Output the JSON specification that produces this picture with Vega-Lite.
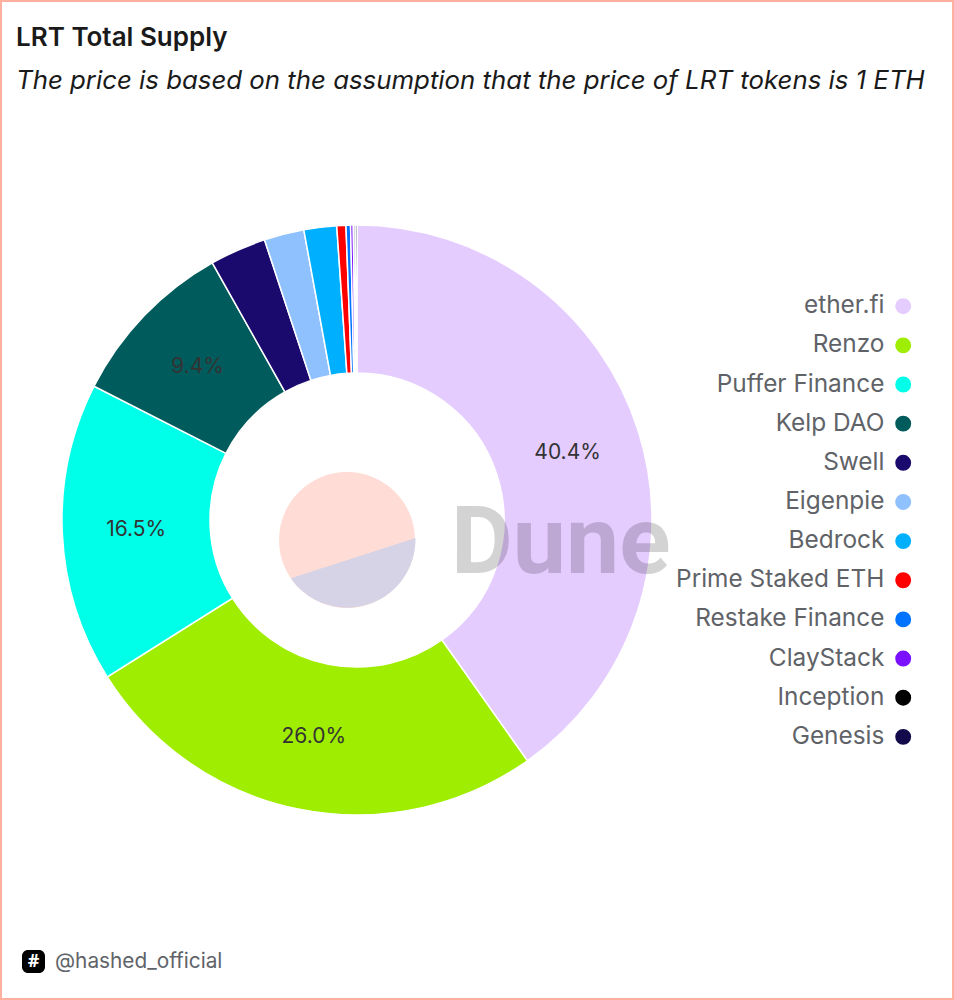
{
  "$schema": "https://vega.github.io/schema/vega-lite/v6.json",
  "width": 954, "height": 1000, "padding": 0, "autosize": {"type": "none"},
  "background": "#ffffff",
  "view": {"stroke": "#ffb0a0", "strokeWidth": 4, "fill": "#ffffff"},
  "title": {"text": "LRT Total Supply", "subtitle": "The price is based on the assumption that the price of LRT tokens is 1 ETH",
    "anchor": "start", "frame": "group", "offset": -94, "dx": 16, "font": "Inter", "fontSize": 26, "fontWeight": 600, "color": "#1a1a1a",
    "subtitleFont": "Inter", "subtitleFontSize": 25.8, "subtitleFontStyle": "italic", "subtitleColor": "#1a1a1a", "subtitlePadding": 18},
  "datasets": {
    "supply": [
      {"project": "ether.fi", "share": 40.4, "rank": 1, "label": "40.4%"},
      {"project": "Renzo", "share": 26.0, "rank": 2, "label": "26.0%"},
      {"project": "Puffer Finance", "share": 16.5, "rank": 3, "label": "16.5%"},
      {"project": "Kelp DAO", "share": 9.4, "rank": 4, "label": "9.4%"},
      {"project": "Swell", "share": 3.1, "rank": 5, "label": ""},
      {"project": "Eigenpie", "share": 2.2, "rank": 6, "label": ""},
      {"project": "Bedrock", "share": 1.8, "rank": 7, "label": ""},
      {"project": "Prime Staked ETH", "share": 0.5, "rank": 8, "label": ""},
      {"project": "Restake Finance", "share": 0.25, "rank": 9, "label": ""},
      {"project": "ClayStack", "share": 0.15, "rank": 10, "label": ""},
      {"project": "Inception", "share": 0.1, "rank": 11, "label": ""},
      {"project": "Genesis", "share": 0.1, "rank": 12, "label": ""}
    ]
  },
  "layer": [
    {
      "data": {"values": [{"part": "logo", "v": 100}]},
      "mark": {"type": "arc", "outerRadius": 68, "stroke": null, "color": "#ffddd6"},
      "encoding": {
        "x": {"value": 347}, "y": {"value": 540},
        "theta": {"field": "v", "type": "quantitative", "stack": true, "scale": {"domain": [0, 100], "range": [0, 6.2832]}}
      }
    },
    {
      "data": {"values": [{"part": "logo lower"}]},
      "mark": {"type": "point", "filled": true, "opacity": 1, "color": "#d6d3e6", "strokeWidth": 0, "size": 18769, "shape": "M 1 -0.03 A 1 1 0 0 1 -0.82 0.56 Z"},
      "encoding": {"x": {"value": 347}, "y": {"value": 540}}
    },
    {
      "data": {"name": "supply"},
      "mark": {"type": "arc", "outerRadius": 295, "innerRadius": 147, "stroke": "#ffffff", "strokeWidth": 1.5},
      "encoding": {
        "x": {"value": 357}, "y": {"value": 520},
        "theta": {"field": "share", "type": "quantitative", "stack": true, "scale": {"domain": [0, 100.5], "range": [0, 6.2832]}},
        "order": {"field": "rank", "type": "quantitative"},
        "color": {"field": "project", "type": "nominal", "sort": null,
          "scale": {"domain": ["ether.fi","Renzo","Puffer Finance","Kelp DAO","Swell","Eigenpie","Bedrock","Prime Staked ETH","Restake Finance","ClayStack","Inception","Genesis"],
            "range": ["#e5ccff","#9fed00","#00ffe8","#005c5c","#1a0a6e","#8fc1ff","#00b0ff","#ff0000","#0074ff","#7a10ff","#000000","#120a4a"]},
          "legend": {"orient": "none", "legendX": 891, "legendY": 294, "title": null, "symbolSize": 254, "symbolType": "circle", "symbolStrokeWidth": 0,
            "labelFont": "Inter", "labelFontSize": 24.4, "labelColor": "#5f6368", "labelAlign": "right", "labelOffset": -31, "labelLimit": 300, "rowPadding": 14.15, "padding": 0}}
      }
    },
    {
      "data": {"name": "supply"},
      "mark": {"type": "text", "radius": 221, "font": "Inter", "fontSize": 21, "color": "#333333"},
      "encoding": {
        "x": {"value": 357}, "y": {"value": 520},
        "theta": {"field": "share", "type": "quantitative", "stack": true, "scale": {"domain": [0, 100.5], "range": [0, 6.2832]}},
        "order": {"field": "rank", "type": "quantitative"},
        "text": {"field": "label"}
      }
    },
    {
      "data": {"values": [{"mark": "Dune"}]},
      "mark": {"type": "text", "align": "left", "baseline": "alphabetic", "font": "Roboto", "fontWeight": 700, "fontSize": 95, "color": "#000000", "opacity": 0.17},
      "encoding": {"x": {"value": 451}, "y": {"value": 573}, "text": {"field": "mark"}}
    },
    {
      "data": {"values": [{"t": "@hashed_official"}]},
      "mark": {"type": "text", "align": "left", "baseline": "middle", "font": "Inter", "fontSize": 20.8, "color": "#5f6368"},
      "encoding": {"x": {"value": 55}, "y": {"value": 962}, "text": {"field": "t"}}
    },
    {
      "data": {"values": [{"t": "logo"}]},
      "mark": {"type": "rect", "color": "#000000", "cornerRadius": 6},
      "encoding": {"x": {"value": 22}, "x2": {"value": 45}, "y": {"value": 950}, "y2": {"value": 973}}
    },
    {
      "data": {"values": [{"t": "#"}]},
      "mark": {"type": "text", "align": "center", "baseline": "middle", "font": "Noto Sans", "fontWeight": 700, "fontSize": 18, "color": "#ffffff"},
      "encoding": {"x": {"value": 33.5}, "y": {"value": 961.5}, "text": {"field": "t"}}
    }
  ],
  "resolve": {"scale": {"theta": "independent", "color": "independent"}}
}
